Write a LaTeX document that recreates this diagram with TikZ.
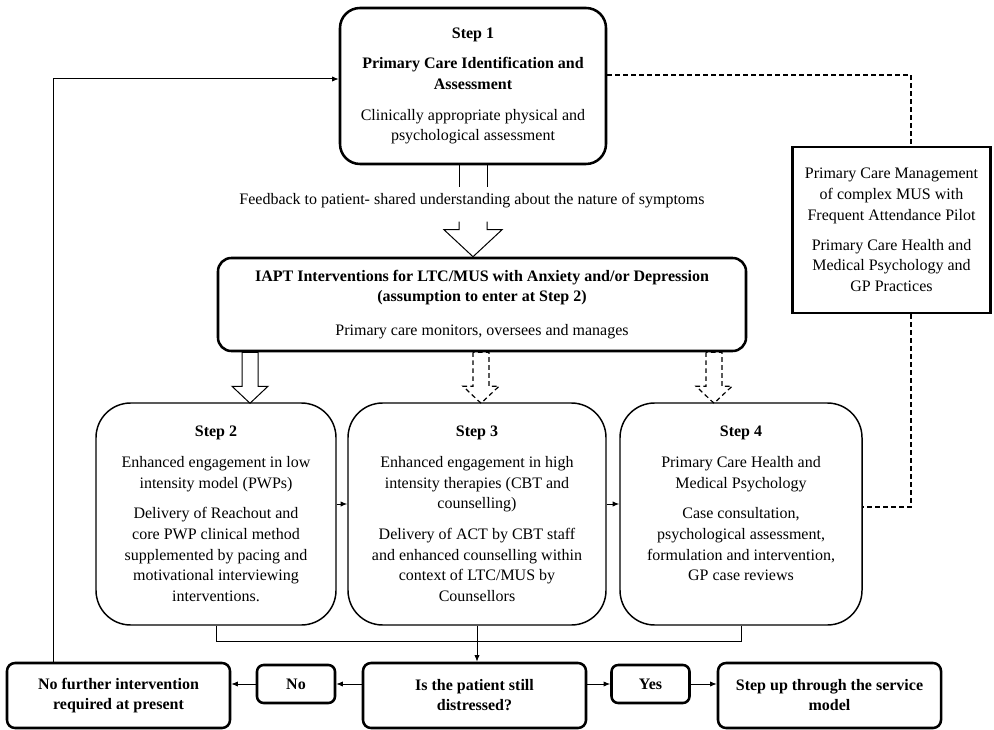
\documentclass[tikz,border=0pt]{standalone}
\usepackage{fontspec}
\setmainfont{Liberation Serif}
\usepackage{tikz}
\usetikzlibrary{positioning, calc, arrows.meta}

\begin{document}
\begin{tikzpicture}[x=0.75pt, y=-0.75pt, >={Latex[length=5pt,width=4pt]},
  every node/.style={font=\fontsize{12}{15.5}\selectfont, inner sep=0pt},
  topbox/.style={draw, line width=1.9pt, rounded corners=15pt, align=center},
  stepbox/.style={draw, line width=1.1pt, rounded corners=26pt, align=center, minimum height=166.5pt},
  endbox/.style={draw, line width=1.9pt, rounded corners=6pt, align=center, font=\fontsize{12}{15}\selectfont\bfseries, minimum width=167.25pt, minimum height=48.75pt},
  choice/.style={draw, line width=1.9pt, rounded corners=5pt, font=\fontsize{12}{15}\selectfont\bfseries, minimum width=58.5pt, minimum height=28.5pt},
  link/.style={line width=0.75pt},
  dotlink/.style={line width=0.9pt, dash pattern=on 3.5pt off 2.5pt}]
\useasboundingbox (0,0) rectangle (994,730);

% Step 1
\node[topbox, minimum width=199.5pt, minimum height=117pt] (step1) at (473,86) {\textbf{Step 1}\\[7.5pt] \textbf{Primary Care Identification and}\\ \textbf{Assessment}\\[7.5pt] Clinically appropriate physical and\\ psychological assessment};

% Feedback
\node (fb) at (472,201) {Feedback to patient- shared understanding about the nature of symptoms};

% IAPT
\node[topbox, rounded corners=10pt, minimum width=396pt, minimum height=69.75pt] (iapt) at (482,304.5) {\textbf{IAPT Interventions for LTC/MUS with Anxiety and/or Depression}\\ \textbf{(assumption to enter at Step 2)}\\[10pt] Primary care monitors, oversees and manages};

% Side box
\node[draw, line width=2.2pt, align=center, minimum width=149pt, minimum height=124.5pt] (pcm) at (891.5,230) {Primary Care Management\\ of complex MUS with\\ Frequent Attendance Pilot\\[7pt] Primary Care Health and\\ Medical Psychology and\\ GP Practices};

% Steps 2 to 4
\node[stepbox, minimum width=180pt] (s2) at (216,514) {\textbf{Step 2}\\[7.5pt] Enhanced engagement in low\\ intensity model (PWPs)\\[7.5pt] Delivery of Reachout and\\ core PWP clinical method\\ supplemented by pacing and\\ motivational interviewing\\ interventions.};
\node[stepbox, minimum width=193.5pt] (s3) at (477,514) {\textbf{Step 3}\\[7.5pt] Enhanced engagement in high\\ intensity therapies (CBT and\\ counselling)\\[7.5pt] Delivery of ACT by CBT staff\\ and enhanced counselling within\\ context of LTC/MUS by\\ Counsellors};
\node[stepbox, minimum width=181.5pt] (s4) at (741,514) {\textbf{Step 4}\\[7.5pt] Primary Care Health and\\ Medical Psychology\\[7.5pt] Case consultation,\\ psychological assessment,\\ formulation and intervention,\\ GP case reviews\\ \mbox{}};

% Bottom row
\node[endbox] (nofurther) at (118.5,695.5) {No further intervention\\ required at present};
\node[choice] (no) at (296,684) {No};
\node[endbox] (q) at (474.5,695.5) {Is the patient still\\ distressed?};
\node[choice] (yes) at (650.5,684) {Yes};
\node[endbox] (stepup) at (829.5,695.5) {Step up through the service\\ model};

% Feedback arrow
\draw[link] ($(step1.south)+(-14,0)$) -- ++(0,22);
\draw[link] ($(step1.south)+(14,0)$) -- ++(0,22);
\draw[link] ($(iapt.north -| step1.south)+(-14,-35)$) -- ++(0,8) -- ++(-15,0) -- ++(29,27) -- ++(29,-27) -- ++(-15,0) -- ++(0,-8);

% Arrows into the steps
\foreach \xx/\sty in {250/link, 481/dotlink, 714/dotlink}
  \draw[\sty] (\xx,0 |- iapt.south) ++(-8,0) -- ++(0,34) -- ++(-10,0) -- ++(18,17) -- ++(18,-17) -- ++(-10,0) -- ++(0,-34) -- cycle;

% Step to step
\coordinate (mid) at (0,504);
\draw[link,->] (s2.east |- mid) -- (s3.west |- mid);
\draw[link,->] (s3.east |- mid) -- (s4.west |- mid);

% Merge into question
\coordinate (merge) at (0,641);
\draw[link] (s2.south) -- (s2.south |- merge) -- (s4.south |- merge) -- (s4.south);
\draw[link,->] (s3.south) -- (s3.south |- q.north);

% Answers
\draw[link,->] (q.west |- no.east) -- (no.east);
\draw[link,->] (no.west) -- (no.west -| nofurther.east);
\draw[link,->] (q.east |- yes.west) -- (yes.west);
\draw[link,->] (yes.east) -- (yes.east -| stepup.west);

% Back to step 1
\coordinate (back) at (53,79);
\draw[link,->] (back |- nofurther.north) -- (back) -- (back -| step1.west);

% Dashed links
\coordinate (dtop) at (911,75);
\coordinate (dbot) at (911,507);
\draw[dotlink] (dtop -| step1.east) -- (dtop) -- (dtop |- pcm.north);
\draw[dotlink] (dbot |- pcm.south) -- (dbot) -- (dbot -| s4.east);
\end{tikzpicture}
\end{document}
